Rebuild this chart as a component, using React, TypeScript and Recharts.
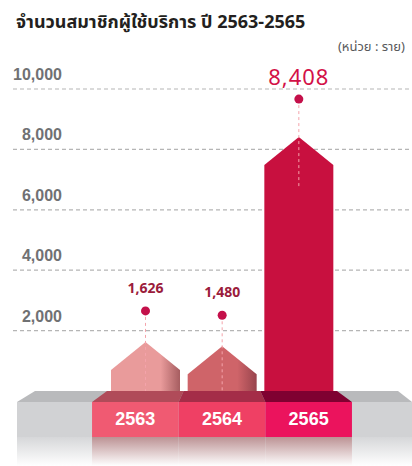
import { ComposedChart, Bar, XAxis, YAxis, CartesianGrid } from "recharts"

const years = ["2563", "2564", "2565"]
const members = [1626, 1480, 8408]
const yTicks = [2000, 4000, 6000, 8000, 10000]

const data = years.map((year, i) => ({ year, members: members[i] }))

const W = 412
const H = 466
const margin = { top: 89, right: 0, bottom: 74, left: 12 }
const padL = 94
const padR = 75
const band = (W - 13 - padL - padR) / years.length

// bar body: [main colour, shaded right edge]
const barFill = [
  ["#e99b9b", "#a65d60"],
  ["#cf6469", "#98444d"],
  ["#c8103f", "#c8103f"],
]
const boxFill = ["#f05a72", "#ef4064", "#eb135d"]
const topFill = ["#b04b59", "#a42d48", "#7f0131"]
const font = "'Noto Sans Thai', 'Noto Sans', Tahoma, Arial, sans-serif"

function HouseBar(props: any) {
  const { x, y, width, height, index, payload } = props
  const cx = x + width / 2
  const roof = 28
  const big = index === years.length - 1
  const dotY = y - (big ? 38 : 31)
  const id = `houseGrad${index}`
  return (
    <g>
      <defs>
        <linearGradient id={id} x1="0" y1="0" x2="1" y2="0">
          <stop offset="0%" stopColor={barFill[index][0]} />
          <stop offset="72%" stopColor={barFill[index][0]} />
          <stop offset="100%" stopColor={barFill[index][1]} />
        </linearGradient>
      </defs>
      <polygon
        points={`${x},${y + roof} ${cx},${y} ${x + width},${y + roof} ${x + width},${y + height} ${x},${y + height}`}
        fill={`url(#${id})`}
      />
      <line x1={cx} y1={dotY} x2={cx} y2={y + roof + 24} stroke="#f4a3ab" strokeDasharray="3 3" />
      <circle cx={cx} cy={dotY} r={4.5} fill="#c4104a" />
      <text
        x={cx}
        y={dotY - (big ? 14 : 18)}
        textAnchor="middle"
        fontFamily={font}
        fontSize={big ? 22 : 14}
        fontWeight={big ? 400 : 700}
        letterSpacing={big ? 1 : 0}
        fill={big ? "#d31148" : "#9b1c3c"}
      >
        {payload.members.toLocaleString("en-US")}
      </text>
    </g>
  )
}

function YearTick(props: any) {
  const { x, y, payload, index } = props
  const mid = x - (index - 1) * band
  const k = 1.13
  const depth = 11
  const face = 35
  const bl = x - band / 2
  const br = x + band / 2
  const fl = mid + (bl - mid) * k
  const fr = mid + (br - mid) * k
  return (
    <g>
      <defs>
        <linearGradient id={`refl${index}`} x1="0" y1="0" x2="0" y2="1">
          <stop offset="0%" stopColor="#bc9294" />
          <stop offset="100%" stopColor="#ffffff" />
        </linearGradient>
        <linearGradient id="reflGray" x1="0" y1="0" x2="0" y2="1">
          <stop offset="0%" stopColor="#d6d7d9" />
          <stop offset="100%" stopColor="#ffffff" />
        </linearGradient>
      </defs>
      {index === 0 && (
        <g>
          <polygon
            points={`35,${y} ${W - 14},${y} ${W},${y + depth} 17,${y + depth}`}
            fill="#b9babc"
          />
          <rect x={17} y={y + depth} width={W - 17} height={face} fill="#d1d2d4" />
          <rect x={17} y={y + depth + face} width={W - 17} height={H - y - depth - face} fill="url(#reflGray)" />
        </g>
      )}
      <polygon points={`${bl},${y} ${br},${y} ${fr},${y + depth} ${fl},${y + depth}`} fill={topFill[index]} />
      <rect x={fl} y={y + depth} width={fr - fl} height={face} fill={boxFill[index]} />
      <rect x={fl} y={y + depth + face} width={fr - fl} height={H - y - depth - face} fill={`url(#refl${index})`} />
      <text
        x={(fl + fr) / 2}
        y={y + depth + 23}
        textAnchor="middle"
        fontFamily="Arial, 'Liberation Sans', sans-serif"
        fontSize={18}
        fontWeight={700}
        fill="#ffffff"
      >
        {payload.value}
      </text>
    </g>
  )
}

function ValueTick(props: any) {
  const { x, y, payload } = props
  return (
    <text
      x={x + 49}
      y={y - 9}
      textAnchor="end"
      fontFamily="Arial, 'Liberation Sans', sans-serif"
      fontSize={16}
      fontWeight={600}
      fill="#707173"
    >
      {payload.value.toLocaleString("en-US")}
    </text>
  )
}

export default function App() {
  return (
    <div style={{ position: "absolute", left: 0, top: 0, width: W, height: H, background: "#fff" }}>
      <div
        style={{
          position: "absolute",
          left: 16,
          top: 9,
          fontFamily: font,
          fontWeight: 700,
          fontSize: 18,
          color: "#231f20",
          whiteSpace: "nowrap",
        }}
      >
        จำนวนสมาชิกผู้ใช้บริการ ปี 2563-2565
      </div>
      <div
        style={{
          position: "absolute",
          right: 7,
          top: 37,
          fontFamily: font,
          fontSize: 13,
          color: "#58595b",
          whiteSpace: "nowrap",
        }}
      >
        (หน่วย : ราย)
      </div>
      <ComposedChart width={W} height={H} data={data} margin={margin} style={{ position: "absolute", left: 0, top: 0 }}>
        <CartesianGrid
          vertical={false}
          horizontalValues={yTicks}
          stroke="#b5b5b5"
          strokeDasharray="4 3"
          strokeWidth={1.2}
        />
        <XAxis
          dataKey="year"
          height={1}
          padding={{ left: padL, right: padR }}
          axisLine={false}
          tickLine={false}
          tickSize={0}
          tickMargin={0}
          interval={0}
          tick={<YearTick />}
        />
        <YAxis
          width={1}
          domain={[0, 10000]}
          ticks={yTicks}
          axisLine={false}
          tickLine={false}
          tickSize={0}
          tickMargin={0}
          tick={<ValueTick />}
        />
        <Bar dataKey="members" barSize={band} shape={<HouseBar />} isAnimationActive={false} />
      </ComposedChart>
    </div>
  )
}
